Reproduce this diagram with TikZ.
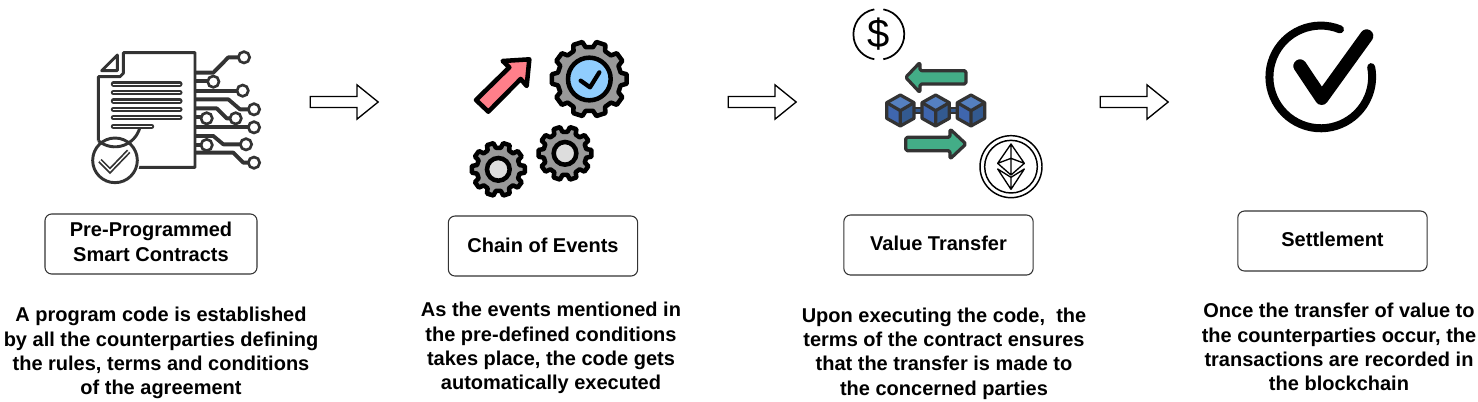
\documentclass[tikz,border=0pt]{standalone}
\usepackage{fontspec}
\setmainfont{Liberation Sans}
\usetikzlibrary{shapes.arrows}
\definecolor{inkdark}{HTML}{333333}
\definecolor{coggray}{HTML}{999999}
\definecolor{hubgray}{HTML}{DDDDDD}
\definecolor{hubblue}{HTML}{90CDFD}
\definecolor{arrowpink}{HTML}{FF7F8A}
\definecolor{swapgreen}{HTML}{43AD87}
\definecolor{cubetop}{HTML}{5580C0}
\definecolor{cubeleft}{HTML}{3F66AE}
\definecolor{cuberight}{HTML}{335A90}
\tikzset{
  cardbox/.style={draw=inkdark, rounded corners=5, line width=0.8pt, font=\fontsize{15}{18.6}\selectfont\bfseries, align=center, minimum height=45pt, inner sep=0pt},
  cardtext/.style={font=\fontsize{15}{18.2}\selectfont\bfseries, align=center, inner sep=0pt},
  flowarrow/.style={draw=black, single arrow, line width=1pt, anchor=tail, minimum height=51pt, minimum width=25.5pt, single arrow tip angle=78, single arrow head extend=8.8pt, inner sep=3.6pt},
  pcbline/.style={draw=inkdark, line width=2.9pt, line join=round},
  pcbpad/.style={draw=inkdark, fill=white, line width=2pt},
  barline/.style={double=white, draw=inkdark, line width=1.6pt, double distance=0.6pt, line cap=round},
  swaparrow/.style={fill=swapgreen, draw=inkdark, line width=2.4pt, line join=round, rounded corners=1.2pt},
}
% one cog: centre, outer radius, root radius, tooth count
\newcommand{\cogwheel}[4]{
  \pgfmathsetmacro\cogstep{360/#4}
  \draw[fill=coggray, draw=black, line width=3.4pt, line join=round, shift={#1}]
    (-0.32*\cogstep:#3) \foreach \n in {1,...,#4} {
      -- (\n*\cogstep-\cogstep-0.2*\cogstep:#2) -- (\n*\cogstep-\cogstep+0.2*\cogstep:#2)
      -- (\n*\cogstep-\cogstep+0.32*\cogstep:#3) -- (\n*\cogstep-\cogstep+0.68*\cogstep:#3)
    } -- cycle;
}
\begin{document}
\begin{tikzpicture}[x=0.75pt, y=-0.75pt]
\useasboundingbox (0,0) rectangle (1478,401);

% boxes
\node[cardbox, minimum width=159pt] (contracts) at (151,244) {\raisebox{0.8pt}{\begin{tabular}{@{}c@{}}Pre-Programmed\\[-0.4pt]Smart Contracts\end{tabular}}};
\node[cardbox, minimum width=142pt] (events) at (543,246) {\raisebox{1.8pt}{Chain of Events}};
\node[cardbox, minimum width=142pt] (transfer) at (938.5,245) {\raisebox{2.5pt}{Value Transfer}};
\node[cardbox, minimum width=142pt] (settle) at (1332.5,241) {\raisebox{2.5pt}{Settlement}};

% texts
\node[cardtext] (contractstext) at (161,353) {A program code is established\\by all the counterparties defining\\the rules, terms and conditions\\of the agreement};
\node[cardtext] (eventstext) at (551,348) {As the events mentioned in\\the pre-defined conditions\\takes place, the code gets\\automatically executed};
\node[cardtext] (transfertext) at (944,353.5) {Upon executing the code,~ the\\terms of the contract ensures\\that the transfer is made to\\the concerned parties};
\node[cardtext] (settletext) at (1339,347) {Once the transfer of value to\\the counterparties occur, the\\transactions are recorded in\\the blockchain};

% arrows
\node[flowarrow] (arrowa) at (309.5,102) {};
\node[flowarrow] (arrowb) at (727.5,102) {};
\node[flowarrow] (arrowc) at (1099.5,102) {};

% contract icon
\begin{scope}[shift={(70,30)}, x=0.25pt, y=-0.25pt]
\draw[inkdark, line width=2.2pt, line join=round] (85,332) -- (85,140) -- (150,140) -- (160,130) -- (160,68) -- (375,68) -- (375,412) -- (205,412);
\draw[inkdark, line width=2.2pt, line join=round] (95,122) -- (142,75) -- (142,122) -- cycle;
\foreach \y in {162,188,213,238,263} \draw[barline] (130,\y) -- (330,\y);
\draw[barline] (130,289) -- (245,289);
\draw[pcbline] (375,128) -- (430,128) -- (475,82) -- (510,82);
\draw[pcbline] (375,152) -- (415,152);
\draw[pcbline] (375,182) -- (505,182);
\draw[pcbline] (375,208) -- (475,208) -- (510,238) -- (535,238);
\draw[pcbline] (375,235) -- (440,235) -- (470,265) -- (482,265);
\draw[pcbline] (375,262) -- (395,262);
\draw[pcbline] (375,290) -- (535,290);
\draw[pcbline] (375,318) -- (430,318) -- (460,343) -- (512,343);
\draw[pcbline] (375,345) -- (395,345);
\draw[pcbline] (375,368) -- (490,368) -- (520,398) -- (535,398);
\foreach \x/\y in {522/82,430/155,518/182,552/238,497/265,410/265,552/292,528/343,410/345,552/398}
  \draw[pcbpad] (\x,\y) circle[radius=17];
\fill[white] (135,391) circle[radius=75];
\draw[inkdark, line width=2.2pt] (85,332) arc[start angle=229.5, end angle=344, x radius=77, y radius=-77];
\draw[inkdark, line width=2.2pt] (135,391) circle[radius=67];
\draw[inkdark, line width=1.3pt, double=white, double distance=1pt, line join=miter] (90,392) -- (120,422) -- (176,364);
\end{scope}

% event icon
\begin{scope}[shift={(450,30)}, x=0.25pt, y=-0.25pt]
\draw[fill=arrowpink, draw=black, line width=3.4pt, line join=round] (78,210) -- (178,112) -- (158,93) -- (238,88) -- (230,168) -- (212,147) -- (115,245) -- cycle;
\cogwheel{(418,147)}{113}{96}{10}
\draw[fill=hubblue, draw=black, line width=3.4pt] (418,147) circle[radius=64];
\draw[black, line width=3.2pt, line cap=round, line join=round] (392,152) -- (420,172) -- (448,127);
\cogwheel{(345,370)}{80}{65}{10}
\draw[fill=hubgray, draw=black, line width=3.4pt] (345,370) circle[radius=34];
\cogwheel{(145,418)}{80}{65}{10}
\draw[fill=hubgray, draw=black, line width=3.4pt] (145,418) circle[radius=34];
\end{scope}

% transfer icon
\begin{scope}[shift={(840,0)}, x=0.25pt, y=-0.25pt]
\draw[black, line width=1.3pt] (130,28) arc[start angle=80, end angle=-80, x radius=76, y radius=-76];
\draw[black, line width=1.3pt] (103,28) arc[start angle=100, end angle=260, x radius=76, y radius=-76];
\node[font=\fontsize{30}{30}\selectfont, inner sep=0pt] (dollar) at (116,103) {\$};
\draw[swaparrow] (197,232) -- (240,187) -- (240,212) -- (378,212) -- (378,252) -- (240,252) -- (240,278) -- cycle;
\draw[swaparrow] (378,432) -- (330,387) -- (330,412) -- (197,412) -- (197,452) -- (330,452) -- (330,477) -- cycle;
\fill[inkdark] (222,320) rectangle (350,343);
\fill[cuberight] (222,326) rectangle (350,337);
\foreach \x in {181,287,393} {
  \fill[cubetop] (\x,285) -- (\x+41,308) -- (\x,332) -- (\x-41,308) -- cycle;
  \fill[cubeleft] (\x-41,308) -- (\x,332) -- (\x,378) -- (\x-41,355) -- cycle;
  \fill[cuberight] (\x+41,308) -- (\x,332) -- (\x,378) -- (\x+41,355) -- cycle;
  \draw[inkdark, line width=2.4pt, line join=round] (\x,285) -- (\x+41,308) -- (\x+41,355) -- (\x,378) -- (\x-41,355) -- (\x-41,308) -- cycle;
  \draw[inkdark, line width=2.4pt, line join=round] (\x-41,308) -- (\x,332) -- (\x+41,308) (\x,332) -- (\x,378);
}
\draw[black, line width=1.1pt] (513,500) circle[radius=93];
\draw[black, line width=1.1pt] (513,500) circle[radius=79];
\draw[black, line width=1pt, line join=round] (513,432) -- (553,490) -- (513,525) -- (473,490) -- cycle (513,432) -- (513,525) (473,490) -- (513,475) -- (553,490);
\draw[black, line width=1pt, line join=round] (473,507) -- (513,568) -- (553,507) -- (513,532) -- cycle (513,532) -- (513,568);
\end{scope}

% settlement icon
\begin{scope}[shift={(1240,10)}, x=0.25pt, y=-0.25pt]
\draw[black, line width=6pt, line cap=round] (300,58) arc[start angle=68, end angle=371, x radius=154, y radius=-154];
\draw[black, line width=10pt, line cap=round, line join=round] (180,168) -- (245,265) -- (380,78);
\end{scope}
\end{tikzpicture}
\end{document}
